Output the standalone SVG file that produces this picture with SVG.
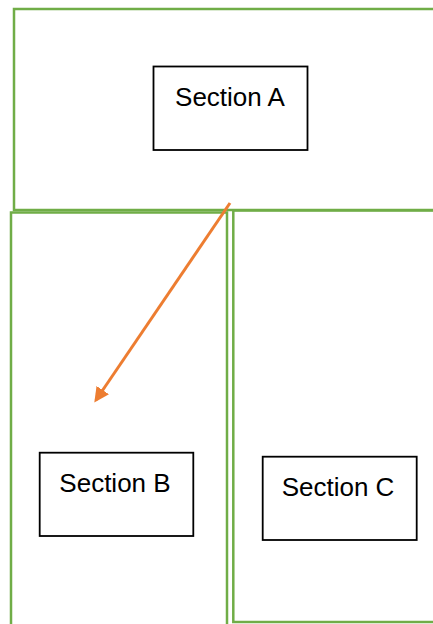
<svg xmlns="http://www.w3.org/2000/svg" width="433" height="624" viewBox="0 0 433 624">
<style>
.region{fill:none;stroke:#70AD47;stroke-width:2.5}
.box{fill:#fff;stroke:#000;stroke-width:1.8}
.lbl{font-family:"Liberation Sans","Open Sans",sans-serif;font-size:26px;fill:#000;text-anchor:middle}
.conn{stroke:#ED7D31;stroke-width:3;fill:none}
</style>
<defs>
<marker id="ah" viewBox="0 0 10 10" refX="8" refY="5" markerWidth="5" markerHeight="5" orient="auto" markerUnits="strokeWidth">
<path d="M0,0 L10,5 L0,10 z" fill="#ED7D31"/>
</marker>
</defs>
<rect width="433" height="624" fill="#fff"/>
<g id="regionA"><rect class="region" x="14" y="9" width="430" height="201"/></g>
<g id="regionB"><rect class="region" x="11" y="212.5" width="216" height="420"/></g>
<g id="regionC"><rect class="region" x="233.3" y="210.5" width="210" height="411.5"/></g>
<g id="sectionA"><rect class="box" x="153.5" y="66.5" width="154" height="83.5"/><text class="lbl" x="230" y="106">Section A</text></g>
<g id="sectionB"><rect class="box" x="39.7" y="452.7" width="153.6" height="83.3"/><text class="lbl" x="115" y="492">Section B</text></g>
<g id="sectionC"><rect class="box" x="262.7" y="456.7" width="154" height="83.3"/><text class="lbl" x="338" y="496">Section C</text></g>
<g id="connectors"><line class="conn" x1="230" y1="203" x2="96" y2="400" marker-end="url(#ah)"/></g>
</svg>
